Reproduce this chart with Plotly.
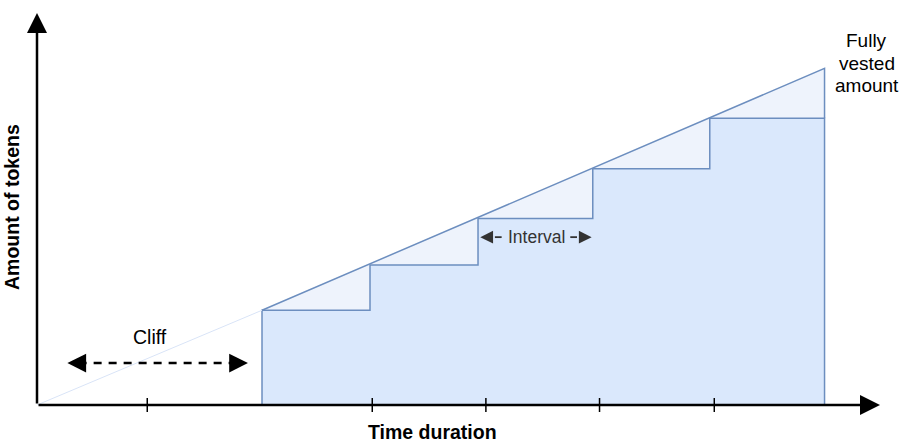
import plotly.graph_objects as go

# ---- data ----
step_edges = [2.0, 2.96, 3.92, 4.94, 5.98, 7.0]      # time at each vesting step
step_levels = [1.97, 2.91, 3.88, 4.91, 5.96]         # vested amount after each step
full_amount = 7.0                                    # fully vested amount
tick_times = [0.98, 2.98, 3.99, 5.0, 6.02]           # tick marks on the time axis
x_title = "Time duration"
y_title = "Amount of tokens"
cliff_label = "Cliff"
interval_label = "Interval"
full_label = ["Fully", "vested", "amount"]

# ---- styling ----
FONT = "Liberation Sans, Arial, Helvetica, sans-serif"
LINE = "#6c8ebf"
FILL = "#dae8fc"
FILL_LIGHT = "#eef3fc"
FAINT = "#d9e4f7"

X_MAX = 7.493
Y_MAX = 8.15

fig = go.Figure()

# step polygon
sx, sy = [step_edges[0]], [0]
for i, lvl in enumerate(step_levels):
    sx += [step_edges[i], step_edges[i + 1]]
    sy += [lvl, lvl]
sx.append(step_edges[-1])
sy.append(0)

# light triangles between straight-line vesting and steps
tx, ty = [step_edges[0], step_edges[-1]], [step_levels[0], full_amount]
for i in range(len(step_levels) - 1, -1, -1):
    tx += [step_edges[i + 1], step_edges[i]]
    ty += [step_levels[i], step_levels[i]]

fig.add_trace(go.Scatter(x=tx, y=ty, mode="lines", fill="toself",
                         fillcolor=FILL_LIGHT, line=dict(width=0),
                         hoverinfo="skip", showlegend=False))
fig.add_trace(go.Scatter(x=sx, y=sy, mode="lines", fill="toself",
                         fillcolor=FILL, line=dict(color=LINE, width=1.5),
                         hoverinfo="skip", showlegend=False))
# diagonal + right riser
fig.add_trace(go.Scatter(x=[step_edges[0], step_edges[-1], step_edges[-1]],
                         y=[step_levels[0], full_amount, step_levels[-1]],
                         mode="lines", line=dict(color=LINE, width=1.5),
                         hoverinfo="skip", showlegend=False))
# faint line from origin to cliff
fig.add_trace(go.Scatter(x=[0, step_edges[0]], y=[0, step_levels[0]],
                         mode="lines", line=dict(color=FAINT, width=1),
                         hoverinfo="skip", showlegend=False))

# cliff dashed arrow
cliff_y = 0.873
c0, c1 = 0.27, step_edges[0] - 0.125
fig.add_trace(go.Scatter(x=[c0 + 0.1, c1 - 0.1], y=[cliff_y, cliff_y],
                         mode="lines", line=dict(color="black", width=2.5, dash="8px,7px"),
                         hoverinfo="skip", showlegend=False))

# tick marks
fig.add_trace(go.Scatter(x=tick_times, y=[0] * len(tick_times), mode="markers",
                         marker=dict(symbol="line-ns", size=10,
                                     line=dict(color="black", width=1.5)),
                         cliponaxis=False, hoverinfo="skip", showlegend=False))

ann = []


def arrow(xt, yt, xa, ya, width, size, color="black"):
    ann.append(dict(x=xt, y=yt, ax=xa, ay=ya, xref="x", yref="y", axref="x", ayref="y",
                    text="", showarrow=True, arrowhead=2, arrowsize=size,
                    arrowwidth=width, arrowcolor=color, standoff=0, startstandoff=0))


# axes with arrow heads
arrow(X_MAX, 0, 0, 0, 2.5, 1.6)
arrow(0, Y_MAX, 0, 0, 2.5, 1.6)
# cliff arrow heads
arrow(c0, cliff_y, c0 + 0.14, cliff_y, 2.5, 1.5)
arrow(c1, cliff_y, c1 - 0.14, cliff_y, 2.5, 1.5)

# interval arrows
i_lo, i_hi = step_edges[2], step_edges[3]
i_y = step_levels[2] - 0.39
arrow(i_lo + 0.02, i_y, i_lo + 0.13, i_y, 1.6, 1.6, "#333333")
arrow(i_hi - 0.01, i_y, i_hi - 0.12, i_y, 1.6, 1.6, "#333333")
fig.add_trace(go.Scatter(x=[i_lo + 0.15, i_lo + 0.21], y=[i_y, i_y], mode="lines",
                         line=dict(color="#333333", width=1.8), hoverinfo="skip",
                         showlegend=False))
fig.add_trace(go.Scatter(x=[i_hi - 0.2, i_hi - 0.14], y=[i_y, i_y], mode="lines",
                         line=dict(color="#333333", width=1.8), hoverinfo="skip",
                         showlegend=False))
ann.append(dict(x=(i_lo + i_hi) / 2 + 0.01, y=i_y, xref="x", yref="y", text=interval_label,
                showarrow=False, font=dict(family=FONT, size=17.5, color="#333333")))

# cliff label
ann.append(dict(x=1.0, y=1.42, xref="x", yref="y", text=cliff_label, showarrow=False,
                font=dict(family=FONT, size=19.5, color="black")))

# fully vested label
for k, line in enumerate(full_label):
    ann.append(dict(x=7.375, y=7.57 - k * 0.465, xref="x", yref="y", text=line,
                    showarrow=False, font=dict(family=FONT, size=19, color="black")))

# axis titles
ann.append(dict(x=(432 - 37) / 843, y=-(432 - 405) / 392, xref="paper", yref="paper",
                xanchor="center", yanchor="middle",
                text="<b>" + x_title + "</b>", showarrow=False,
                font=dict(family=FONT, size=19.5, color="black")))
ann.append(dict(x=-(37 - 12) / 843, y=(405 - 207) / 392, xref="paper", yref="paper",
                xanchor="center", yanchor="middle",
                text="<b>" + y_title + "</b>", showarrow=False, textangle=-90,
                font=dict(family=FONT, size=19.5, color="black")))

fig.update_layout(
    width=899, height=443,
    margin=dict(l=37, r=19, t=13, b=38),
    paper_bgcolor="white", plot_bgcolor="white",
    xaxis=dict(range=[0, X_MAX], visible=False, fixedrange=True),
    yaxis=dict(range=[0, Y_MAX], visible=False, fixedrange=True),
    annotations=ann,
    showlegend=False,
)

fig.write_html("out.html", config=dict(displayModeBar=False),
               post_script="document.body.style.margin='0';document.body.style.overflow='hidden';")
